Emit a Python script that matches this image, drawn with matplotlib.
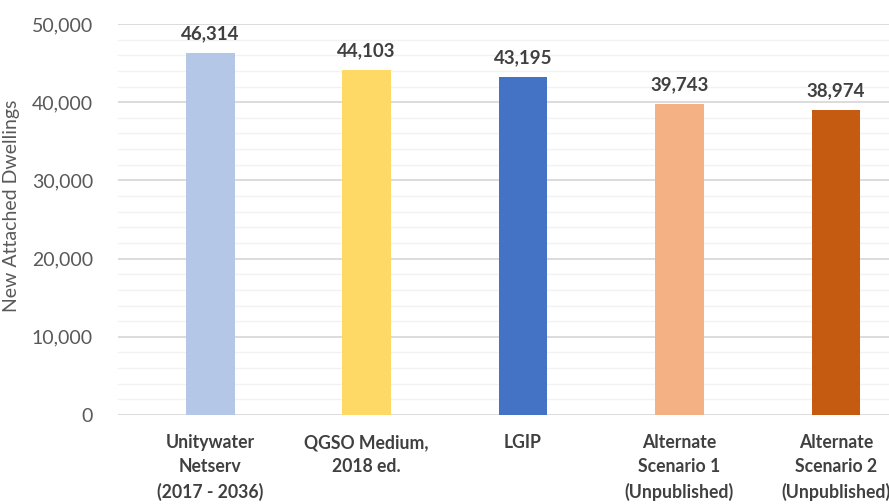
import numpy as np
import matplotlib
matplotlib.use("Agg")
import matplotlib.pyplot as plt
from matplotlib.ticker import MultipleLocator, FuncFormatter

categories = ["Unitywater\nNetserv\n(2017 - 2036)", "QGSO Medium,\n2018 ed.", "LGIP",
              "Alternate\nScenario 1\n(Unpublished)", "Alternate\nScenario 2\n(Unpublished)"]
dwellings = [46314, 44103, 43195, 39743, 38974]
colors = ["#B4C7E7", "#FFD966", "#4472C4", "#F4B183", "#C55A11"]

plt.rcParams['font.family'] = ['Lato', 'DejaVu Sans']

fig = plt.figure(figsize=(8.89, 5.04), dpi=100)
ax = fig.add_axes([118 / 889, 1 - 415 / 504, 1 - 118 / 889, (415 - 24) / 504])

x = np.arange(len(categories))
ax.bar(x, dwellings, width=0.31, color=colors, zorder=3)
for xi, v in zip(x, dwellings):
    ax.text(xi, v + 1400, f"{v:,}", ha="center", va="bottom", fontsize=13.5,
            fontweight="bold", color="#404040")

ax.set_ylim(0, 50000)
ax.set_xlim(-0.59, 4.34)
ax.yaxis.set_major_locator(MultipleLocator(10000))
ax.yaxis.set_minor_locator(MultipleLocator(2000))
ax.yaxis.set_major_formatter(FuncFormatter(lambda v, p: f"{int(v):,}"))
ax.grid(axis="y", which="major", color="#D9D9D9", linewidth=1.3, zorder=0)
ax.grid(axis="y", which="minor", color="#F2F2F2", linewidth=1.0, zorder=0)
ax.tick_params(axis="y", which="both", length=0, labelsize=14, labelcolor="#595959", pad=18)
ax.tick_params(axis="x", length=0, pad=14)
ax.set_xticks(x)
ax.set_xticklabels(categories, fontsize=12.7, fontweight="bold", color="#404040", linespacing=1.5)
for s in ax.spines.values():
    s.set_visible(False)
ax.set_ylabel("New Attached Dwellings", fontsize=14, color="#595959")
ax.yaxis.set_label_coords(-0.127, 0.535)

fig.savefig("out.png", dpi=100)
